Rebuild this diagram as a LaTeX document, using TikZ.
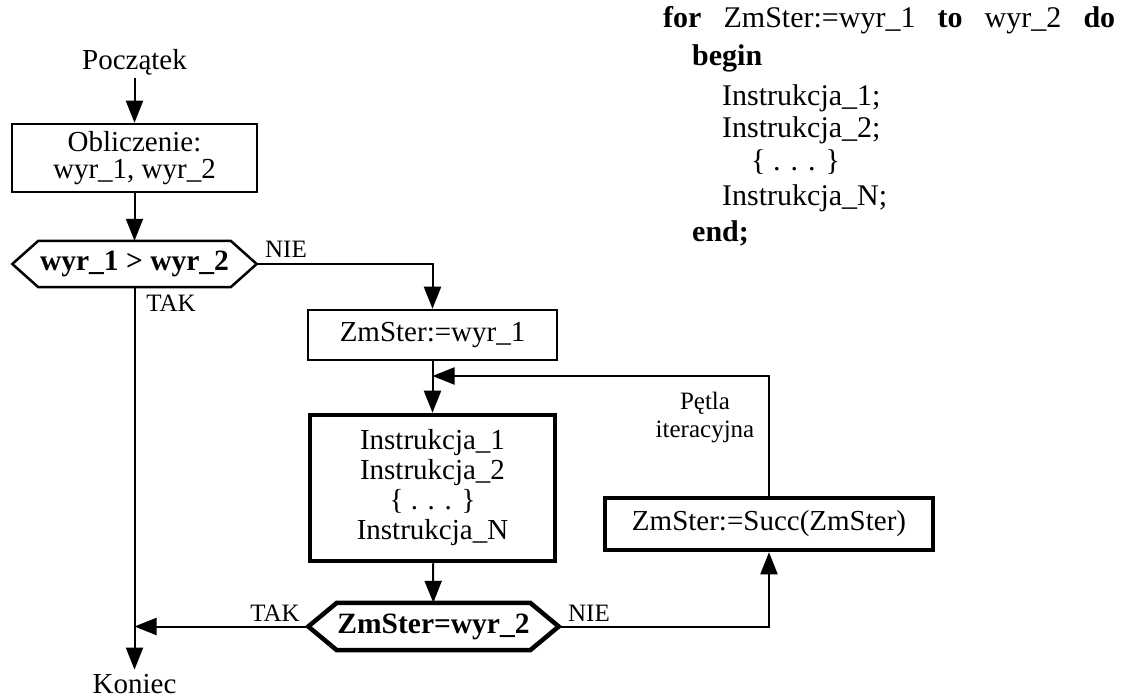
\documentclass[tikz,border=0pt]{standalone}
\usepackage{fontspec}
\setmainfont{Liberation Serif}
\usetikzlibrary{arrows.meta,calc}
\begin{document}
\begin{tikzpicture}[x=1pt,y=-1pt,
  font=\fontsize{29}{27}\selectfont,
  conn/.style={line width=2pt},
  arr/.style={conn,-{Triangle[length=22pt,width=17pt]}},
  plainbox/.style={draw,line width=2.5pt,inner sep=0pt,align=center},
  heavybox/.style={draw,line width=4.5pt,inner sep=0pt,align=center},
  hexcore/.style={inner sep=0pt,font=\fontsize{29.5}{30}\selectfont\bfseries},
  lbl/.style={font=\fontsize{25}{28}\selectfont,inner sep=0pt},
  code/.style={anchor=base west,inner sep=0pt,font=\fontsize{30}{30}\selectfont},
]
\useasboundingbox (0,0) rectangle (1130,700);

% --- flowchart nodes ---
\node[anchor=base,inner sep=2pt] (start) at (134.5,70) {Początek};
\node[plainbox,minimum width=245pt,minimum height=68pt] (calc) at (134.5,158)
  {Obliczenie:\\wyr\_1, wyr\_2};

\node[hexcore,minimum width=192pt,minimum height=46pt] (dec1) at (134.5,264)
  {wyr\_1 > wyr\_2};
\coordinate (dec1w) at ($(dec1.west)+(-26,0)$);
\coordinate (dec1e) at ($(dec1.east)+(26,0)$);
\draw[line width=2.5pt] (dec1.north west) -- (dec1.north east) -- (dec1e)
  -- (dec1.south east) -- (dec1.south west) -- (dec1w) -- cycle;

\node[plainbox,minimum width=249pt,minimum height=50pt] (init) at (432.5,335)
  {ZmSter:=wyr\_1};
\node[heavybox,minimum width=245pt,minimum height=146pt,
  font=\fontsize{29}{30}\selectfont] (body) at (432.5,488)
  {Instrukcja\_1\\Instrukcja\_2\\\{ . . . \}\\Instrukcja\_N};

\node[hexcore,minimum width=193pt,minimum height=47pt] (dec2) at (433.5,626.5)
  {ZmSter=wyr\_2};
\coordinate (dec2w) at ($(dec2.west)+(-28.5,0)$);
\coordinate (dec2e) at ($(dec2.east)+(28.5,0)$);
\draw[line width=4.5pt] (dec2.north west) -- (dec2.north east) -- (dec2e)
  -- (dec2.south east) -- (dec2.south west) -- (dec2w) -- cycle;

\node[heavybox,minimum width=328pt,minimum height=52pt] (succ) at (769,524)
  {ZmSter:=Succ(ZmSter)};

\node[anchor=base,inner sep=0pt] (fin) at (134.5,693) {Koniec};

\coordinate (join) at (432.5,376);
\coordinate (merge) at (134.5,626.5);

% --- connectors ---
\draw[arr] (start) -- (calc);
\draw[arr] (calc) -- (dec1);
\draw[arr] (dec1e) -| (init.north);
\draw[arr,shorten >=4pt] (dec1.south) -- (fin.north);
\draw[arr] (init) -- (body);
\draw[arr] (body) -- (dec2);
\draw[arr] (dec2w) -- (merge);
\draw[arr] (dec2e) -| (succ.south);
\draw[arr] (succ.north) |- (join);

% --- branch labels ---
\node[lbl,anchor=base] (nie1) at (286,258) {NIE};
\node[lbl,anchor=base] (tak1) at (171,312) {TAK};
\node[lbl,anchor=base] (tak2) at (275,621) {TAK};
\node[lbl,anchor=base] (nie2) at (589,621) {NIE};
\node[lbl,align=center] (loop) at (705,418) {Pętla\\iteracyjna};

% --- Pascal source ---
\node[code] (c1) at (663,28)
  {\makebox[452pt][s]{\textbf{for} ZmSter:=wyr\_1 \textbf{to} wyr\_2 \textbf{do}}};
\node[code] (c2) at (692,66) {\textbf{begin}};
\node[code] (c3) at (722,106) {Instrukcja\_1;};
\node[code] (c4) at (722,138) {Instrukcja\_2;};
\node[code] (c5) at (751,171) {\{ . . . \}};
\node[code] (c6) at (722,206) {Instrukcja\_N;};
\node[code] (c7) at (692,242) {\textbf{end;}};
\end{tikzpicture}
\end{document}
